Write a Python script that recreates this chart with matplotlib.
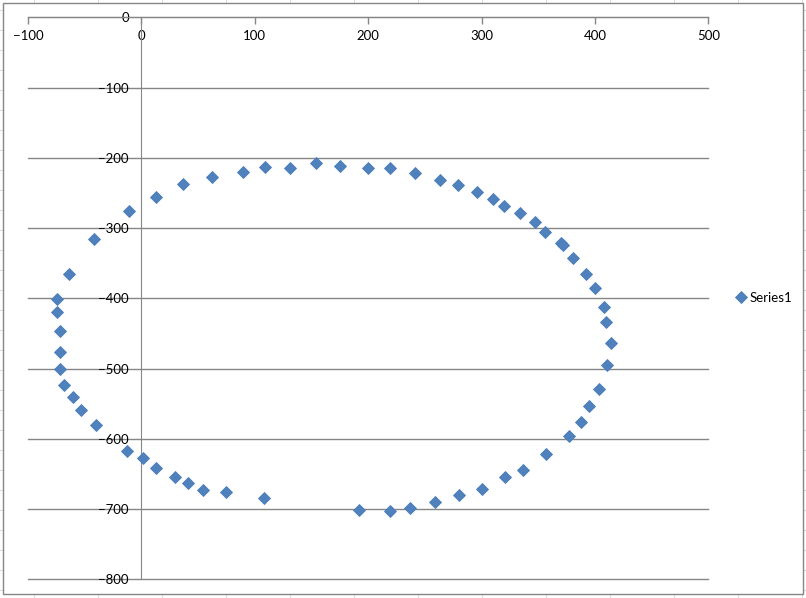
import matplotlib
matplotlib.use("Agg")
import matplotlib.pyplot as plt
from matplotlib.patches import Rectangle
from matplotlib.lines import Line2D

plt.rcParams["font.family"] = ["Lato", "DejaVu Sans"]

# data points (x, y)
x_vals = [-74, -74, -72, -72, -72, -68, -60.5, -53, -40, -13, 1, 13, 29.5, 41, 54,
          75, 108, 191.5, 219, 236.5, 259, 280, 300.6, 321, 337, 357, 377, 387.4,
          395, 404, 411, 414, 410, 407.6, 400, 392.4, 381, 370, 372, 356, 347,
          333.5, 320, 310, 296, 279, 263, 241, 219, 200, 175, 154, 131.5, 109, 90,
          62, 37, 13, -10.6, -42, -64]
y_vals = [-401, -420, -447, -477, -500, -524, -541, -559, -581, -618, -627, -642, -655,
          -663, -673, -676, -684, -702, -703, -699, -690, -680, -672, -655, -644, -621,
          -595.5, -576.5, -554, -529.5, -495, -463, -434, -412, -386, -366, -343, -321,
          -324, -305, -291, -279, -269, -259, -248, -239, -232, -222, -215, -215, -212,
          -208, -214.5, -213.5, -220, -227, -238, -256, -276, -316, -366]
series_name = "Series1"
x_ticks = [-100, 0, 100, 200, 300, 400, 500]
y_ticks = [-800, -700, -600, -500, -400, -300, -200, -100, 0]

W, H = 806, 598
fig = plt.figure(figsize=(W / 100, H / 100), dpi=100)

# spreadsheet cell grid behind the chart
for px in range(34, W, 64):
    fig.add_artist(Line2D([px / W, px / W], [0, 1], color="#dadcdd", lw=0.8, zorder=-3))
for py in range(10, H, 20):
    fig.add_artist(Line2D([0, 1], [1 - py / H, 1 - py / H], color="#dadcdd", lw=0.8,
                          zorder=-3))
fig.add_artist(Rectangle((3 / W, 1 - 594 / H), 800 / W, 591 / H, transform=fig.transFigure,
                         facecolor="white", edgecolor="#868686", lw=1.0, zorder=-2))

ax = fig.add_axes([28 / W, 1 - 579.3 / H, 680.3 / W, 562 / H])
ax.set_facecolor("none")
ax.set_xlim(-100, 500)
ax.set_ylim(-800, 0)

grey = "#868686"
for s in ["right", "bottom"]:
    ax.spines[s].set_visible(False)
ax.spines["left"].set_position(("data", 0))
ax.spines["left"].set_color(grey)
ax.spines["top"].set_color(grey)

ax.set_xticks(x_ticks)
ax.set_yticks(y_ticks)
ax.xaxis.tick_top()
ax.tick_params(axis="x", direction="in", length=5, width=1, color=grey, pad=-18,
               labelsize=9.5)
ax.tick_params(axis="y", length=0, pad=9, labelsize=9.5)
ax.yaxis.grid(True, color=grey, lw=1)
for gl in ax.get_ygridlines():
    gl.set_clip_on(False)
ax.set_axisbelow(True)

ax.plot(x_vals, y_vals, linestyle="none", marker="D", markersize=6.0,
        markerfacecolor="#4f81bd", markeredgecolor="#4a7ebb", markeredgewidth=0.6,
        label=series_name, zorder=3)

fig.legend(loc="center left", bbox_to_anchor=(736 / W, 1 - 298 / H), frameon=False,
           fontsize=9.5, handlelength=0.7, handletextpad=0.3, borderpad=0,
           borderaxespad=0)

fig.savefig("out.png", dpi=100)
